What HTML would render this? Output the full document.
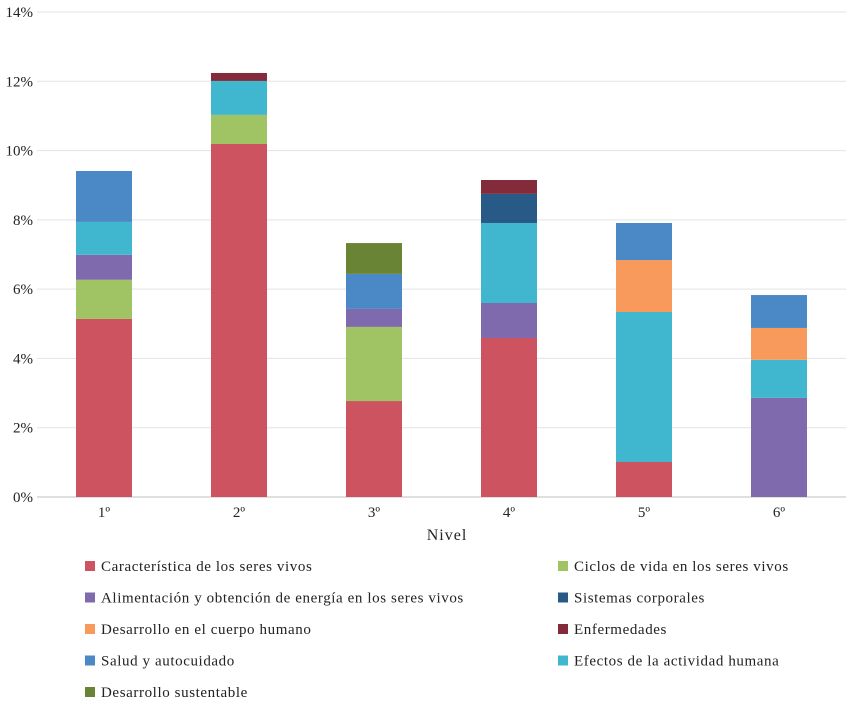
<!DOCTYPE html>
<html><head><meta charset="utf-8"><style>
body{margin:0;background:#fff;font-family:"Liberation Serif",serif;}
</style></head><body>
<svg id="chart" width="851" height="705" xmlns="http://www.w3.org/2000/svg"></svg>
<script>
const categories=["1º","2º","3º","4º","5º","6º"];
const seriesNames=["Característica  de los seres vivos","Ciclos de vida en los seres  vivos","Alimentación  y obtención de energía en los seres vivos","Efectos de la actividad  humana","Sistemas corporales","Desarrollo  en el cuerpo humano","Salud  y autocuidado","Enfermedades","Desarrollo  sustentable"];
const seriesColors=["#CD5360","#A0C464","#7F6AAD","#41B7CF","#285A87","#F79A5B","#4A88C6","#832B3A","#6A8436"];
const sCaract=[5.14,10.19,2.77,4.59,1.01,0];
const sCiclos=[1.13,0.84,2.14,0,0,0];
const sAlim=[0.72,0,0.52,1.01,0,2.86];
const sEfectos=[0.95,0.98,0,2.31,4.33,1.10];
const sSistemas=[0,0,0,0.84,0,0];
const sDesarrollo=[0,0,0,0,1.50,0.92];
const sSalud=[1.47,0,1.01,0,1.07,0.95];
const sEnferm=[0,0.23,0,0.40,0,0];
const sSust=[0,0,0.89,0,0,0];
const yTicks=[0,2,4,6,8,10,12,14];
const series=[sCaract,sCiclos,sAlim,sEfectos,sSistemas,sDesarrollo,sSalud,sEnferm,sSust];
const svg=document.getElementById('chart');
const NS="http://www.w3.org/2000/svg";
function mk(t,a){const e=document.createElementNS(NS,t);for(const k in a)e.setAttribute(k,a[k]);svg.appendChild(e);return e;}
const y0=497,y1=12,x0=37,x1=846;
function y(v){return y0-(v/14)*(y0-y1);}
function xc(i){return 104+i*135;}
yTicks.forEach(t=>{
 const l=mk('line',{x1:x0,x2:x1,y1:y(t),y2:y(t),stroke:t===0?'#bfbfbf':'#e3e3e3','stroke-width':1});
 
 
 const tx=mk('text',{x:33,y:y(t)+5,'text-anchor':'end','font-size':15,fill:'#222'});
 tx.textContent=t+'%';
 
 
});
categories.forEach((c,i)=>{
 let acc=0;
 series.forEach((s,k)=>{
  const v=s[i]; if(!v) return;
  const r=mk('rect',{x:xc(i)-28,y:y(acc+v),width:56,height:y(acc)-y(acc+v),fill:seriesColors[k]});
  
  
  acc+=v;
 });
 const tx=mk('text',{x:xc(i),y:517,'text-anchor':'middle','font-size':15,fill:'#222'});
 tx.textContent=c;
 
 
});
const xt=mk('text',{x:447,y:540,'text-anchor':'middle','font-size':16,'letter-spacing':1,fill:'#222'});
xt.textContent='Nivel';


const legendOrder=[0,1,2,4,5,7,6,3,8];
legendOrder.forEach((k,j)=>{
 const col=j%2,row=Math.floor(j/2);
 const lx=col?563:90,ly=566+row*31.5;
 const r=mk('rect',{x:lx-5,y:ly-5,width:10,height:10,fill:seriesColors[k]});
 
 
 const t=mk('text',{x:lx+11,y:ly+5,'font-size':15,'letter-spacing':0.6,fill:'#222'});
 t.textContent=seriesNames[k];
 
 
});
</script>
</body></html>
